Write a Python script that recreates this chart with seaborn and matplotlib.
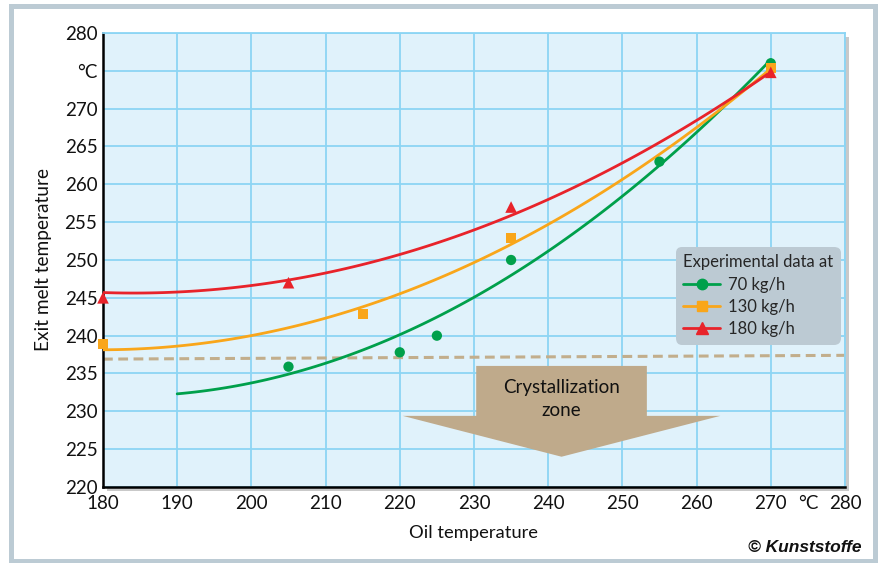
import numpy as np
import pandas as pd
import matplotlib
matplotlib.use("Agg")
import matplotlib.pyplot as plt
import matplotlib.patheffects as pe
from matplotlib.lines import Line2D
from matplotlib.patches import Rectangle
import seaborn as sns

# experimental data -------------------------------------------------------------
oil_70 = [205, 220, 225, 235, 255, 270]
melt_70 = [235.9, 237.8, 240.0, 250.0, 263.0, 276.0]
oil_130 = [180, 215, 235, 270]
melt_130 = [238.9, 242.9, 252.9, 275.4]
oil_180 = [180, 205, 235, 270]
melt_180 = [245.0, 247.0, 257.0, 274.8]

# trend curves
curve_oil_70 = [190, 200, 205, 210, 220, 225, 230, 235, 240, 250, 255, 260, 270]
curve_melt_70 = [232.5, 233.8, 234.7, 236.3, 239.7, 242.3, 245.2, 248.5, 251.4, 258.4, 262.4, 266.7, 276.5]
curve_oil_130 = [180, 190, 200, 210, 215, 220, 230, 235, 240, 250, 260, 270]
curve_melt_130 = [238.0, 238.5, 240.0, 242.6, 244.2, 245.8, 249.5, 251.8, 254.3, 260.5, 267.6, 275.5]
curve_oil_180 = [180, 190, 200, 210, 220, 230, 240, 250, 260, 270]
curve_melt_180 = [245.7, 245.7, 246.6, 248.4, 250.8, 254.0, 258.0, 262.5, 268.6, 274.9]

# crystallization boundary (dashed) and zone arrow
limit_oil = [180, 280]
limit_melt = [236.9, 237.4]
zone_x = 241.8
zone_top = 236.0
zone_bottom = 224.0

series_names = ["70 kg/h", "130 kg/h", "180 kg/h"]
colors = {"70 kg/h": "#00a04b", "130 kg/h": "#f9a61a", "180 kg/h": "#e8232a"}
markers = {"70 kg/h": "o", "130 kg/h": "s", "180 kg/h": "^"}
msizes = {"70 kg/h": 55, "130 kg/h": 55, "180 kg/h": 70}

x_ticks = [180, 190, 200, 210, 220, 230, 240, 250, 260, 270, 280]
y_ticks = [220, 225, 230, 235, 240, 245, 250, 255, 260, 265, 270, 275, 280]
y_labels = ["220", "225", "230", "235", "240", "245", "250", "255", "260", "265", "270", "°C", "280"]

points = pd.concat([
    pd.DataFrame({"oil": oil_70, "melt": melt_70, "rate": "70 kg/h"}),
    pd.DataFrame({"oil": oil_130, "melt": melt_130, "rate": "130 kg/h"}),
    pd.DataFrame({"oil": oil_180, "melt": melt_180, "rate": "180 kg/h"}),
])
curves = {
    "70 kg/h": (curve_oil_70, curve_melt_70),
    "130 kg/h": (curve_oil_130, curve_melt_130),
    "180 kg/h": (curve_oil_180, curve_melt_180),
}

sns.set_style("white")
plt.rcParams['font.family'] = ['Lato', 'DejaVu Sans']
grid_col = "#8cd5f4"
txt_col = "#111111"

fig = plt.figure(figsize=(8.81, 5.63), dpi=100)
ax = fig.add_axes([0.1169, 0.1350, 0.8422, 0.8064])
ax.set_facecolor("#e0f2fb")
ax.patch.set_path_effects([pe.SimplePatchShadow(offset=(3, -3), shadow_rgbFace="#888888", alpha=0.45),
                           pe.Normal()])

# outer frame
fig.patches.append(Rectangle((0.01305, 0.00444), 0.9807, 0.9853, fill=False,
                             edgecolor="#bccbd4", lw=3.6, transform=fig.transFigure))

# dashed boundary
sns.lineplot(x=limit_oil, y=limit_melt, ax=ax, color="#c2ae8c", lw=2.2,
             linestyle=(0, (3.2, 1.8)), zorder=2)

# zone arrow
ax.arrow(zone_x, zone_top, 0, zone_bottom - zone_top, width=23.0, head_width=42.8,
         head_length=5.4, length_includes_head=True, color="#bfaa8b", lw=0, zorder=2)
ax.text(zone_x, 231.6, "Crystallization\nzone", ha="center", va="center",
        fontsize=13.5, linespacing=1.45, color=txt_col, zorder=3)

# trend curves
for name in series_names:
    cx, cy = curves[name]
    sns.regplot(x=cx, y=cy, order=2, ci=None, scatter=False, truncate=True, ax=ax,
                line_kws={"color": colors[name], "lw": 2.0, "zorder": 4})

# experimental points
for name in series_names:
    sub = points[points["rate"] == name]
    sns.scatterplot(data=sub, x="oil", y="melt", ax=ax, color=colors[name],
                    marker=markers[name], s=msizes[name], edgecolor="none",
                    zorder=5, legend=False, clip_on=False)

ax.set_xlim(180, 280)
ax.set_ylim(220, 280)
ax.set_xticks(x_ticks)
ax.set_xticks([275], ["°C"], minor=True)
ax.set_yticks(y_ticks, y_labels)
ax.grid(True, which="major", color=grid_col, lw=1.3)
ax.set_axisbelow(True)
ax.tick_params(axis="both", which="both", length=0, labelsize=13.5, colors=txt_col)
ax.tick_params(axis="x", which="both", pad=6)
ax.tick_params(axis="y", pad=4)

for s in ["top", "right"]:
    ax.spines[s].set_color(grid_col)
    ax.spines[s].set_linewidth(1.3)
for s in ["left", "bottom"]:
    ax.spines[s].set_color("black")
    ax.spines[s].set_linewidth(1.8)

ax.set_xlabel("Oil temperature", fontsize=13.2, labelpad=9, color=txt_col)
ax.set_ylabel("Exit melt temperature", fontsize=13.8, labelpad=9, color=txt_col)

handles = [Line2D([0], [0], color=colors[n], marker=markers[n], lw=2.0,
                  markersize=7.5 if n != "180 kg/h" else 8.5) for n in series_names]
leg = ax.legend(handles, series_names, title="Experimental data at", loc="upper left",
                bbox_to_anchor=(0.772, 0.529), borderaxespad=0, frameon=True,
                facecolor="#bccad3", edgecolor="none", framealpha=1, fontsize=12,
                title_fontsize=12, handlelength=2.2, handletextpad=0.5,
                labelspacing=0.38, alignment="left", numpoints=1, borderpad=0.45)
leg.get_frame().set_boxstyle("round,pad=0,rounding_size=0.4")

fig.text(0.978, 0.028, "© Kunststoffe", ha="right", va="center", fontsize=12.5,
         fontweight="bold", fontstyle="italic", family="Liberation Sans", color=txt_col)

fig.savefig("out.png", dpi=100)
